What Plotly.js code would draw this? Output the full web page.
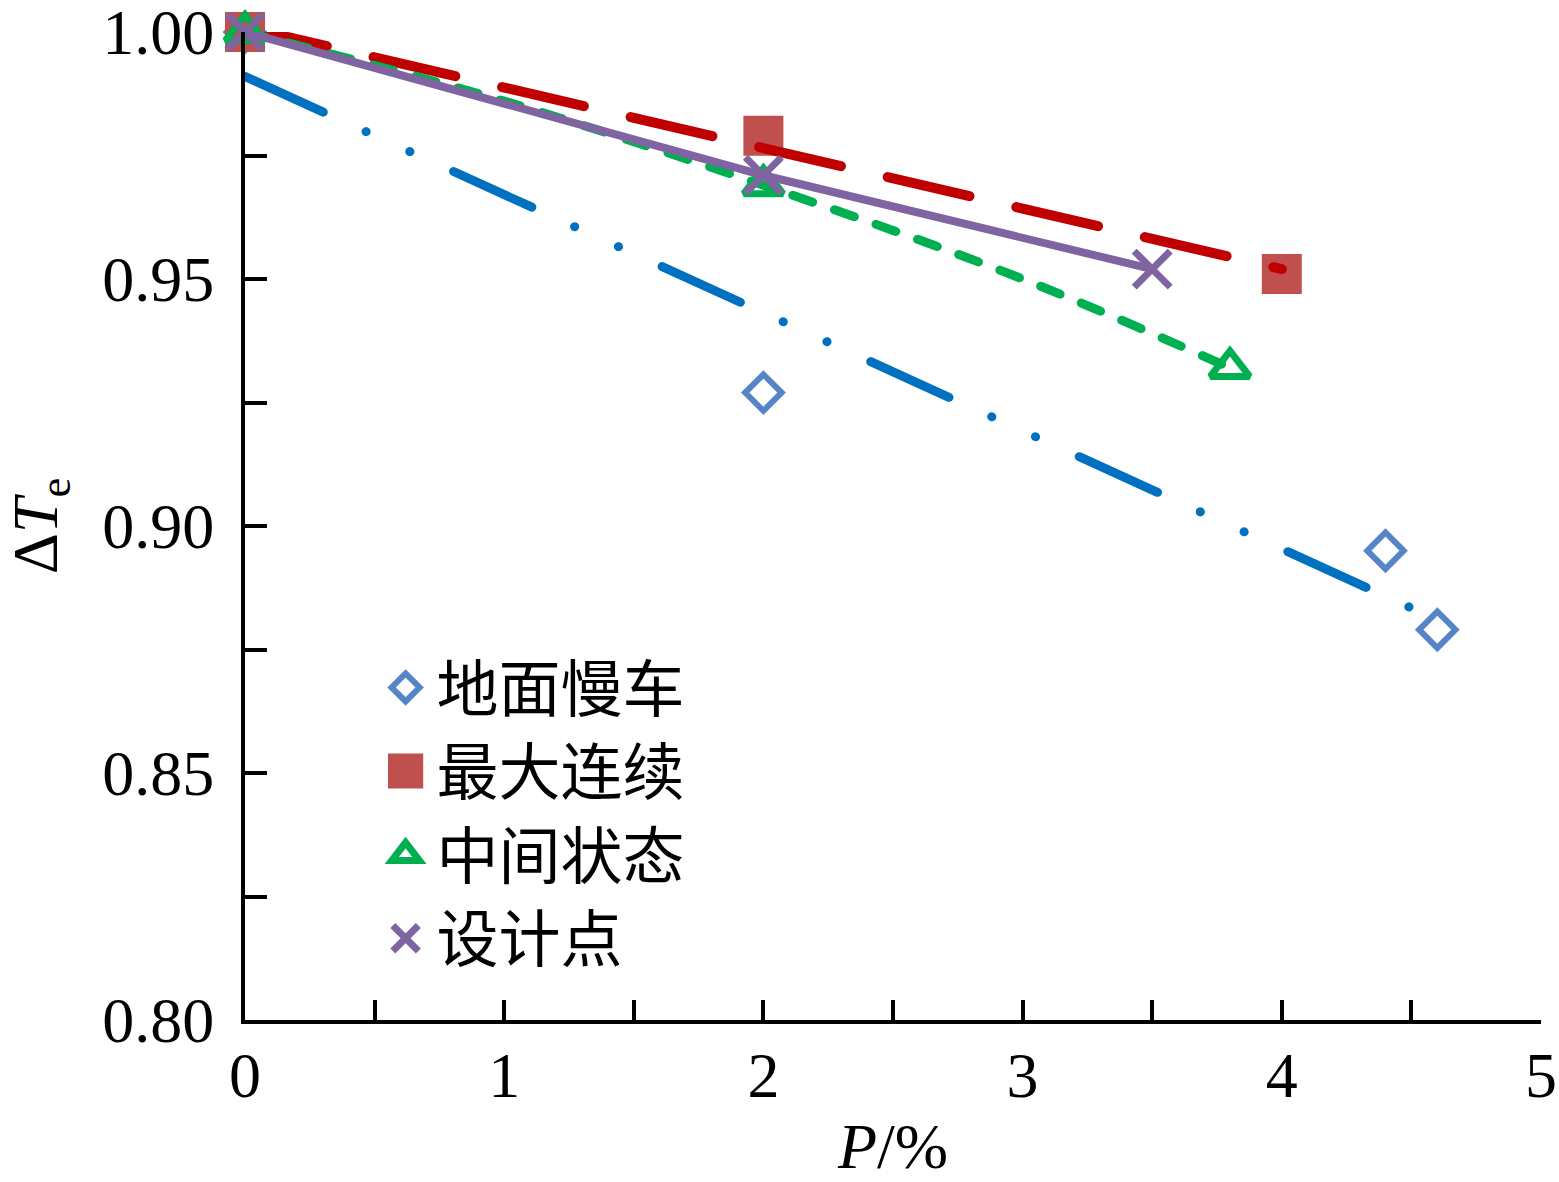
<!DOCTYPE html>
<html>
<head>
<meta charset="utf-8">
<script src="https://cdn.plot.ly/plotly-3.0.1.min.js"></script>
<style>
  body { margin: 0; background: #fff; }
  #chart { width: 1559px; height: 1182px; }
  /* round dash ends, like the original figure */
  path.js-line { stroke-linecap: round; }
</style>
</head>
<body>
<div id="chart"></div>
<script>
// measured points, P (%) vs relative ΔTe
var seriesNames = ['地面慢车', '最大连续', '中间状态', '设计点'];

var idleX = [0, 2, 4.4, 4.6];
var idleY = [1.0, 0.927, 0.895, 0.879];

var maxContX = [0, 2, 4];
var maxContY = [1.0, 0.979, 0.951];

var interX = [0, 2, 3.8];
var interY = [1.0, 0.969, 0.932];

var designX = [0, 2, 3.5];
var designY = [1.0, 0.971, 0.952];

// trend lines
var idleFitX = [0, 4.6];
var idleFitY = [0.991, 0.881];

var maxContFitX = [0, 4];
var maxContFitY = [1.001, 0.952];

var interFitX = [0, 1, 2, 3, 3.8];
var interFitY = [1.0, 0.986, 0.969, 0.950, 0.932];

var xTicks = [0, 1, 2, 3, 4, 5];
var yTicks = [0.80, 0.85, 0.90, 0.95, 1.00];
var yTickText = ['0.80', '0.85', '0.90', '0.95', '1.00'];

var font = 'Liberation Serif, Times New Roman, Noto Sans CJK SC, serif';

var traces = [
  {
    x: idleX, y: idleY, name: seriesNames[0], mode: 'markers', type: 'scatter',
    cliponaxis: false,
    marker: {symbol: 'diamond-open', size: 28, color: '#5585C6', line: {width: 6, color: '#5585C6'}}
  },
  {
    x: maxContX, y: maxContY, name: seriesNames[1], mode: 'markers', type: 'scatter',
    cliponaxis: false,
    marker: {symbol: 'square', size: 40, color: '#C0504D', line: {width: 0}}
  },
  {
    x: interX, y: interY, name: seriesNames[2], mode: 'markers', type: 'scatter',
    cliponaxis: false,
    marker: {symbol: 'triangle-up-open', size: 34, color: '#00B050', line: {width: 7, color: '#00B050'}}
  },
  // trend lines
  {
    x: idleFitX, y: idleFitY, mode: 'lines', type: 'scatter', showlegend: false, cliponaxis: false,
    line: {color: '#0070C0', width: 9, dash: '86px,47px,0.1px,48px,0.1px,48px'}
  },
  {
    x: maxContFitX, y: maxContFitY, mode: 'lines', type: 'scatter', showlegend: false, cliponaxis: false,
    line: {color: '#C00000', width: 10, dash: '84px,48px'}
  },
  {
    x: interFitX, y: interFitY, mode: 'lines', type: 'scatter', showlegend: false, cliponaxis: false,
    line: {color: '#00B050', width: 9, dash: '21px,23px', shape: 'spline'}
  },
  {
    x: designX, y: designY, mode: 'lines', type: 'scatter', showlegend: false, cliponaxis: false,
    line: {color: '#8064A2', width: 8}
  },
  {
    x: designX, y: designY, name: seriesNames[3], mode: 'markers', type: 'scatter',
    cliponaxis: false,
    marker: {symbol: 'x-thin-open', size: 36, color: '#8064A2', line: {width: 7, color: '#8064A2'}}
  }
];

var layout = {
  width: 1559,
  height: 1182,
  margin: {l: 245, r: 18, t: 32, b: 162},
  paper_bgcolor: '#fff',
  plot_bgcolor: '#fff',
  font: {family: font, size: 64, color: '#000'},
  showlegend: true,
  legend: {
    x: 0.1, y: 0.384, xanchor: 'left', yanchor: 'top',
    bgcolor: 'rgba(0,0,0,0)',
    font: {family: font, size: 62, color: '#000'},
    itemwidth: 52,
    tracegroupgap: 0
  },
  xaxis: {
    range: [0, 5],
    tickvals: xTicks,
    ticks: 'inside', ticklen: 20, tickwidth: 4, tickcolor: '#000',
    minor: {dtick: 0.5, ticks: 'inside', ticklen: 20, tickwidth: 4, tickcolor: '#000', showgrid: false},
    showline: true, linewidth: 4, linecolor: '#000',
    showgrid: false, zeroline: false,
    ticklabelstandoff: -4,
    ticklabeloverflow: 'allow',
    tickfont: {family: font, size: 64},
    title: {text: '<i>P</i>/%', font: {family: font, size: 64}, standoff: 72}
  },
  yaxis: {
    range: [0.8, 1.0],
    tickvals: yTicks, ticktext: yTickText,
    ticks: 'inside', ticklen: 22, tickwidth: 4, tickcolor: '#000',
    minor: {dtick: 0.025, ticks: 'inside', ticklen: 22, tickwidth: 4, tickcolor: '#000', showgrid: false},
    showline: true, linewidth: 4, linecolor: '#000',
    showgrid: false, zeroline: false,
    ticklabelstandoff: 14,
    ticklabeloverflow: 'allow',
    tickfont: {family: font, size: 64},
    title: {text: 'Δ<i>T</i><sub>e</sub>', font: {family: font, size: 64}, standoff: 30}
  }
};

// legend symbol scale and stroke (px after scaling), per legend entry
var legendScale = [1.35, 2.2, 1.5, 1.6];
var legendStroke = [6, 0, 7, 7];

Plotly.newPlot('chart', traces, layout, {staticPlot: true}).then(function (gd) {
  // plotly caps legend symbols at 16px; the figure's are about twice that
  gd.querySelectorAll('.legend .traces').forEach(function (g, i) {
    var p = g.querySelector('.legendpoints path.scatterpts');
    if (!p) return;
    var t = p.getAttribute('transform') || '';
    p.setAttribute('transform', t + ' scale(' + legendScale[i] + ')');
    p.style.strokeWidth = legendStroke[i] / legendScale[i] + 'px';
  });
});
</script>
</body>
</html>
